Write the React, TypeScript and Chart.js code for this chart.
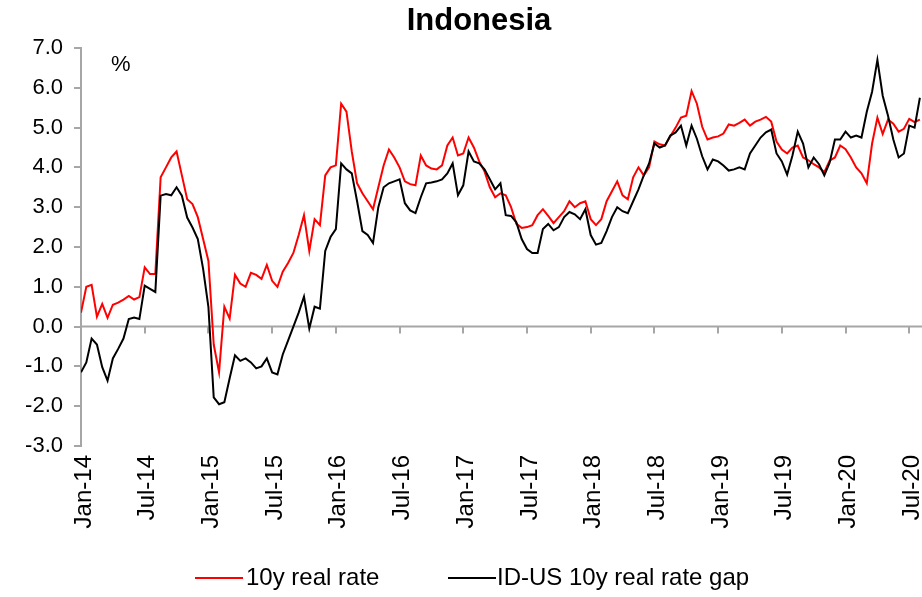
import React, { useEffect, useRef } from "react";
import { Chart, registerables } from "chart.js";

Chart.register(...registerables);

const chartTitle = "Indonesia";
const unitLabel = "%";
const seriesNames = ["10y real rate", "ID-US 10y real rate gap"];
const tickLabels = ["Jan-14", "Jul-14", "Jan-15", "Jul-15", "Jan-16", "Jul-16", "Jan-17", "Jul-17", "Jan-18", "Jul-18", "Jan-19", "Jul-19", "Jan-20", "Jul-20"];
// semi-monthly observations starting Jan-2014
const stepMonths = 0.5;

const realRate = [
  0.35, 1.0, 1.05, 0.25, 0.57, 0.22, 0.55, 0.6, 0.68, 0.77, 0.68, 0.74, 1.49, 1.32, 1.32, 3.75, 4.0, 4.25, 4.4, 3.8,
  3.2, 3.08, 2.75, 2.2, 1.65, -0.45, -1.15, 0.5, 0.2, 1.3, 1.08, 1.0, 1.35, 1.3, 1.2, 1.55, 1.15, 1.0, 1.38, 1.6,
  1.85, 2.3, 2.8, 1.9, 2.7, 2.55, 3.8, 4.0, 4.05, 5.6, 5.4, 4.4, 3.6, 3.35, 3.15, 2.95, 3.5, 4.05, 4.45, 4.25,
  4.0, 3.65, 3.58, 3.55, 4.3, 4.05, 3.97, 3.95, 4.05, 4.55, 4.75, 4.3, 4.35, 4.75, 4.5, 4.15, 3.9, 3.5, 3.25, 3.35,
  3.3, 3.0, 2.58, 2.48, 2.5, 2.55, 2.8, 2.95, 2.78, 2.6, 2.75, 2.9, 3.15, 3.0, 3.1, 3.15, 2.7, 2.55, 2.7, 3.15,
  3.4, 3.65, 3.3, 3.2, 3.75, 4.0, 3.8, 4.0, 4.65, 4.58, 4.55, 4.78, 5.0, 5.25, 5.3, 5.92, 5.6, 5.02, 4.7, 4.75,
  4.78, 4.85, 5.08, 5.05, 5.12, 5.2, 5.05, 5.15, 5.2, 5.27, 5.15, 4.65, 4.45, 4.35, 4.5, 4.55, 4.25, 4.18, 4.08, 4.0,
  3.88, 4.17, 4.25, 4.55, 4.46, 4.25, 4.0, 3.85, 3.6, 4.6, 5.25, 4.84, 5.2, 5.1, 4.9, 4.97, 5.22, 5.14, 5.2
];

const rateGap = [
  -1.15, -0.9, -0.3, -0.45, -1.02, -1.36, -0.8, -0.56, -0.3, 0.19, 0.23, 0.19, 1.03, 0.95, 0.87, 3.29, 3.33, 3.3, 3.5, 3.29,
  2.74, 2.49, 2.2, 1.45, 0.49, -1.78, -1.95, -1.9, -1.3, -0.72, -0.86, -0.8, -0.9, -1.05, -1.0, -0.8, -1.15, -1.2, -0.7, -0.35,
  0.0, 0.35, 0.75, -0.05, 0.5, 0.45, 1.9, 2.25, 2.45, 4.1, 3.95, 3.85, 3.15, 2.4, 2.3, 2.1, 3.0, 3.5, 3.6, 3.65,
  3.7, 3.1, 2.92, 2.85, 3.25, 3.6, 3.62, 3.65, 3.7, 3.85, 4.1, 3.3, 3.55, 4.4, 4.15, 4.1, 3.95, 3.7, 3.45, 3.6,
  2.8, 2.78, 2.62, 2.2, 1.95, 1.85, 1.85, 2.45, 2.58, 2.42, 2.5, 2.75, 2.88, 2.82, 2.7, 2.95, 2.3, 2.06, 2.1, 2.4,
  2.75, 3.0, 2.9, 2.85, 3.15, 3.45, 3.8, 4.1, 4.6, 4.5, 4.55, 4.8, 4.88, 5.05, 4.55, 5.05, 4.72, 4.28, 3.95, 4.2,
  4.15, 4.05, 3.92, 3.95, 4.0, 3.95, 4.35, 4.55, 4.75, 4.88, 4.95, 4.35, 4.15, 3.82, 4.3, 4.9, 4.6, 4.0, 4.25, 4.08,
  3.8, 4.12, 4.7, 4.7, 4.9, 4.75, 4.8, 4.75, 5.4, 5.9, 6.7, 5.8, 5.3, 4.7, 4.25, 4.35, 5.05, 5.0, 5.75
];

const yMin = -3;
const yMax = 7;
const xMaxMonths = 79.2;
const FONT = '"Liberation Sans", Arial, sans-serif';
const AXIS_GREY = "#a6a6a6";

const decorPlugin = {
  id: "decor",
  beforeDatasetsDraw(chart: any) {
    const { ctx, chartArea, scales } = chart;
    const y0 = scales.y.getPixelForValue(0);
    ctx.save();
    ctx.strokeStyle = AXIS_GREY;
    ctx.lineWidth = 2;
    ctx.beginPath();
    ctx.moveTo(chartArea.left, y0);
    ctx.lineTo(chartArea.right, y0);
    for (let k = 1; k < tickLabels.length; k++) {
      const x = Math.round(scales.x.getPixelForValue(k * 6));
      ctx.moveTo(x, y0);
      ctx.lineTo(x, y0 + 7);
    }
    ctx.stroke();
    ctx.restore();
  },
  afterDraw(chart: any) {
    const { ctx } = chart;
    ctx.save();
    ctx.fillStyle = "#000";
    ctx.textBaseline = "middle";
    ctx.textAlign = "center";
    ctx.font = `bold 31px ${FONT}`;
    ctx.fillText(chartTitle, 479, 21);
    ctx.textAlign = "left";
    ctx.font = `22px ${FONT}`;
    ctx.fillText(unitLabel, 111, 65);
    // legend
    const ly = 578;
    ctx.lineWidth = 2;
    ctx.strokeStyle = "#ff0000";
    ctx.beginPath();
    ctx.moveTo(195, ly);
    ctx.lineTo(243, ly);
    ctx.stroke();
    ctx.strokeStyle = "#000000";
    ctx.beginPath();
    ctx.moveTo(448, ly);
    ctx.lineTo(496, ly);
    ctx.stroke();
    ctx.font = `24px ${FONT}`;
    ctx.fillText(seriesNames[0], 246, ly);
    ctx.fillText(seriesNames[1], 497, ly);
    ctx.restore();
  },
};

export default function App() {
  const ref = useRef<HTMLCanvasElement | null>(null);
  useEffect(() => {
    document.body.style.margin = "0";
    const canvas = ref.current;
    if (!canvas) return;
    const toPoints = (arr: number[]) => arr.map((v, i) => ({ x: i * stepMonths, y: v }));
    const chart = new Chart(canvas, {
      type: "line",
      data: {
        datasets: [
          {
            label: seriesNames[0],
            data: toPoints(realRate),
            borderColor: "#ff0000",
            backgroundColor: "#ff0000",
            borderWidth: 2,
            pointRadius: 0,
            tension: 0,
            order: 2,
          },
          {
            label: seriesNames[1],
            data: toPoints(rateGap),
            borderColor: "#000000",
            backgroundColor: "#000000",
            borderWidth: 2,
            pointRadius: 0,
            tension: 0,
            order: 1,
          },
        ],
      },
      options: {
        animation: false,
        responsive: false,
        devicePixelRatio: 1,
        layout: { padding: { top: 48, right: 0, bottom: 0, left: 0 } },
        plugins: { legend: { display: false }, tooltip: { enabled: false }, title: { display: false } },
        scales: {
          x: {
            type: "linear",
            min: 0,
            max: xMaxMonths,
            grid: { display: false, drawTicks: false },
            border: { display: false },
            ticks: {
              stepSize: 6,
              includeBounds: false,
              autoSkip: false,
              maxRotation: 90,
              minRotation: 90,
              padding: 9,
              labelOffset: 3,
              color: "#000",
              font: { family: FONT, size: 24 },
              callback: (v: any) => {
                const n = Number(v);
                return n % 6 === 0 ? tickLabels[n / 6] ?? "" : "";
              },
            },
            afterFit: (s: any) => {
              s.height = 151;
              s.paddingLeft = 0;
              s.paddingRight = 0;
            },
          },
          y: {
            min: yMin,
            max: yMax,
            grid: { drawOnChartArea: false, drawTicks: true, tickLength: 7, color: AXIS_GREY, lineWidth: 2 },
            border: { display: true, color: AXIS_GREY, width: 2 },
            ticks: {
              stepSize: 1,
              padding: 11,
              color: "#000",
              font: { family: FONT, size: 22 },
              callback: (v: any) => Number(v).toFixed(1),
            },
            afterFit: (s: any) => {
              s.width = 81;
            },
          },
        },
      },
      plugins: [decorPlugin],
    });
    return () => chart.destroy();
  }, []);
  return (
    <div style={{ width: 922, height: 597 }}>
      <canvas ref={ref} width={922} height={597} style={{ display: "block" }} />
    </div>
  );
}
